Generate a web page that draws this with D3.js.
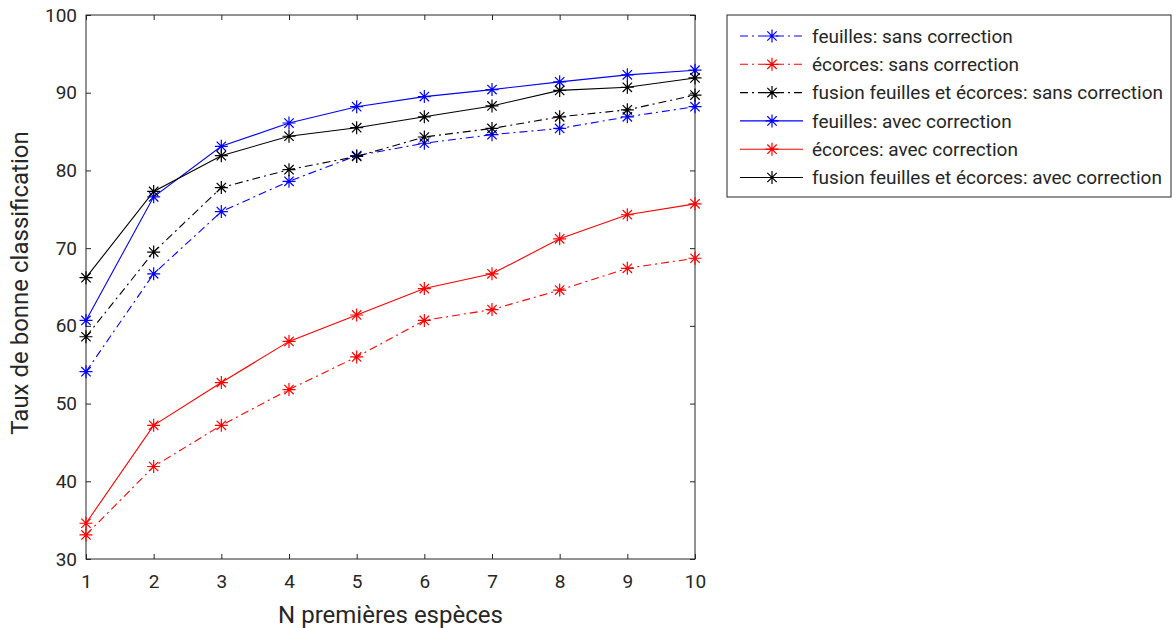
<!DOCTYPE html>
<html><head><meta charset="utf-8">
<script src="https://cdn.jsdelivr.net/npm/d3@7"></script>
<style>
body{margin:0;background:#fff;}
svg{display:block;font-family:Roboto, "Noto Sans", sans-serif;}
</style></head>
<body><svg id="c" width="1173" height="628"></svg>
<script>
const xValues = [1,2,3,4,5,6,7,8,9,10];
const yTicks = [30,40,50,60,70,80,90,100];
const feuillesSans = [54.1,66.7,74.7,78.6,81.9,83.5,84.6,85.4,86.9,88.2];
const ecorcesSans = [33.1,41.9,47.2,51.8,56.0,60.7,62.1,64.6,67.4,68.7];
const fusionSans = [58.6,69.5,77.8,80.1,81.8,84.3,85.4,86.9,87.8,89.7];
const feuillesAvec = [60.7,76.6,83.1,86.1,88.2,89.5,90.4,91.4,92.3,92.9];
const ecorcesAvec = [34.6,47.2,52.7,58.0,61.4,64.8,66.7,71.2,74.3,75.7];
const fusionAvec = [66.2,77.3,81.9,84.4,85.5,86.9,88.3,90.3,90.7,91.9];
const seriesNames = ["feuilles: sans correction","écorces: sans correction","fusion feuilles et écorces: sans correction","feuilles: avec correction","écorces: avec correction","fusion feuilles et écorces: avec correction"];
const seriesColors = ["#0000ff","#ff0000","#000000","#0000ff","#ff0000","#000000"];
const seriesDashed = [true,true,true,false,false,false];
const seriesValues = [feuillesSans,ecorcesSans,fusionSans,feuillesAvec,ecorcesAvec,fusionAvec];
const xLabel = "N premières espèces";
const yLabel = "Taux de bonne classification";

const svg = d3.select("#c");
const L=86,R=695,T=15,B=559;
const x = d3.scaleLinear().domain([1,10]).range([L,R]);
const y = d3.scaleLinear().domain([30,100]).range([B,T]);
const axisColor="#262626";
const dashPat="8,4,2,4";

svg.append("rect").attr("x",L).attr("y",T).attr("width",R-L).attr("height",B-T)
  .attr("fill","none").attr("stroke",axisColor).attr("stroke-width",1);

const gx = svg.append("g").attr("transform",`translate(0,${B})`)
  .call(d3.axisBottom(x).tickValues(xValues).tickSizeInner(-5).tickSizeOuter(0).tickPadding(16).tickFormat(d3.format("d")));
const gxt = svg.append("g").attr("transform",`translate(0,${T})`)
  .call(d3.axisTop(x).tickValues(xValues).tickSizeInner(-5).tickSizeOuter(0).tickFormat(""));
const gy = svg.append("g").attr("transform",`translate(${L},0)`)
  .call(d3.axisLeft(y).tickValues(yTicks).tickSizeInner(-5).tickSizeOuter(0).tickPadding(9).tickFormat(d3.format("d")));
const gyr = svg.append("g").attr("transform",`translate(${R},0)`)
  .call(d3.axisRight(y).tickValues(yTicks).tickSizeInner(-5).tickSizeOuter(0).tickFormat(""));
[gx,gxt,gy,gyr].forEach(g=>{
  g.select(".domain").remove();
  g.selectAll(".tick line").attr("stroke",axisColor);
  g.selectAll("text").attr("fill",axisColor).style("font-size","19px").style("font-family","Roboto");
});

svg.append("text").attr("x",(L+R)/2).attr("y",623).attr("text-anchor","middle")
  .attr("fill",axisColor).style("font-size","24px").text(xLabel);
svg.append("text").attr("transform",`translate(28,${(T+B)/2 - 4}) rotate(-90)`).attr("text-anchor","middle")
  .attr("fill",axisColor).style("font-size","24px").text(yLabel);

function star(g, cx, cy, r, color){
  const d = r*0.72;
  const p = `M${cx-r},${cy}L${cx+r},${cy}M${cx},${cy-r}L${cx},${cy+r}M${cx-d},${cy-d}L${cx+d},${cy+d}M${cx-d},${cy+d}L${cx+d},${cy-d}`;
  g.append("path").attr("d",p).attr("stroke",color).attr("stroke-width",1.2).attr("fill","none");
}

const line = d3.line().x((d,i)=>x(xValues[i])).y(d=>y(d));
seriesValues.forEach((vals,k)=>{
  const g = svg.append("g");
  g.append("path").attr("d",line(vals)).attr("fill","none").attr("stroke",seriesColors[k])
    .attr("stroke-width",1.1).attr("stroke-dasharray",seriesDashed[k]?dashPat:null);
  vals.forEach((v,i)=>star(g,x(xValues[i]),y(v),6.5,seriesColors[k]));
});

const lg = svg.append("g");
lg.append("rect").attr("x",727).attr("y",15).attr("width",444).attr("height",182)
  .attr("fill","#fff").attr("stroke",axisColor).attr("stroke-width",1);
seriesNames.forEach((n,k)=>{
  const yy = 36 + k*28.3;
  lg.append("line").attr("x1",740).attr("x2",803).attr("y1",yy).attr("y2",yy)
    .attr("stroke",seriesColors[k]).attr("stroke-width",1.1).attr("stroke-dasharray",seriesDashed[k]?dashPat:null);
  star(lg,772,yy,6.5,seriesColors[k]);
  lg.append("text").attr("x",812).attr("y",yy).attr("dy","0.35em").attr("fill",axisColor)
    .style("font-size","19px").text(n);
});
</script></body></html>
